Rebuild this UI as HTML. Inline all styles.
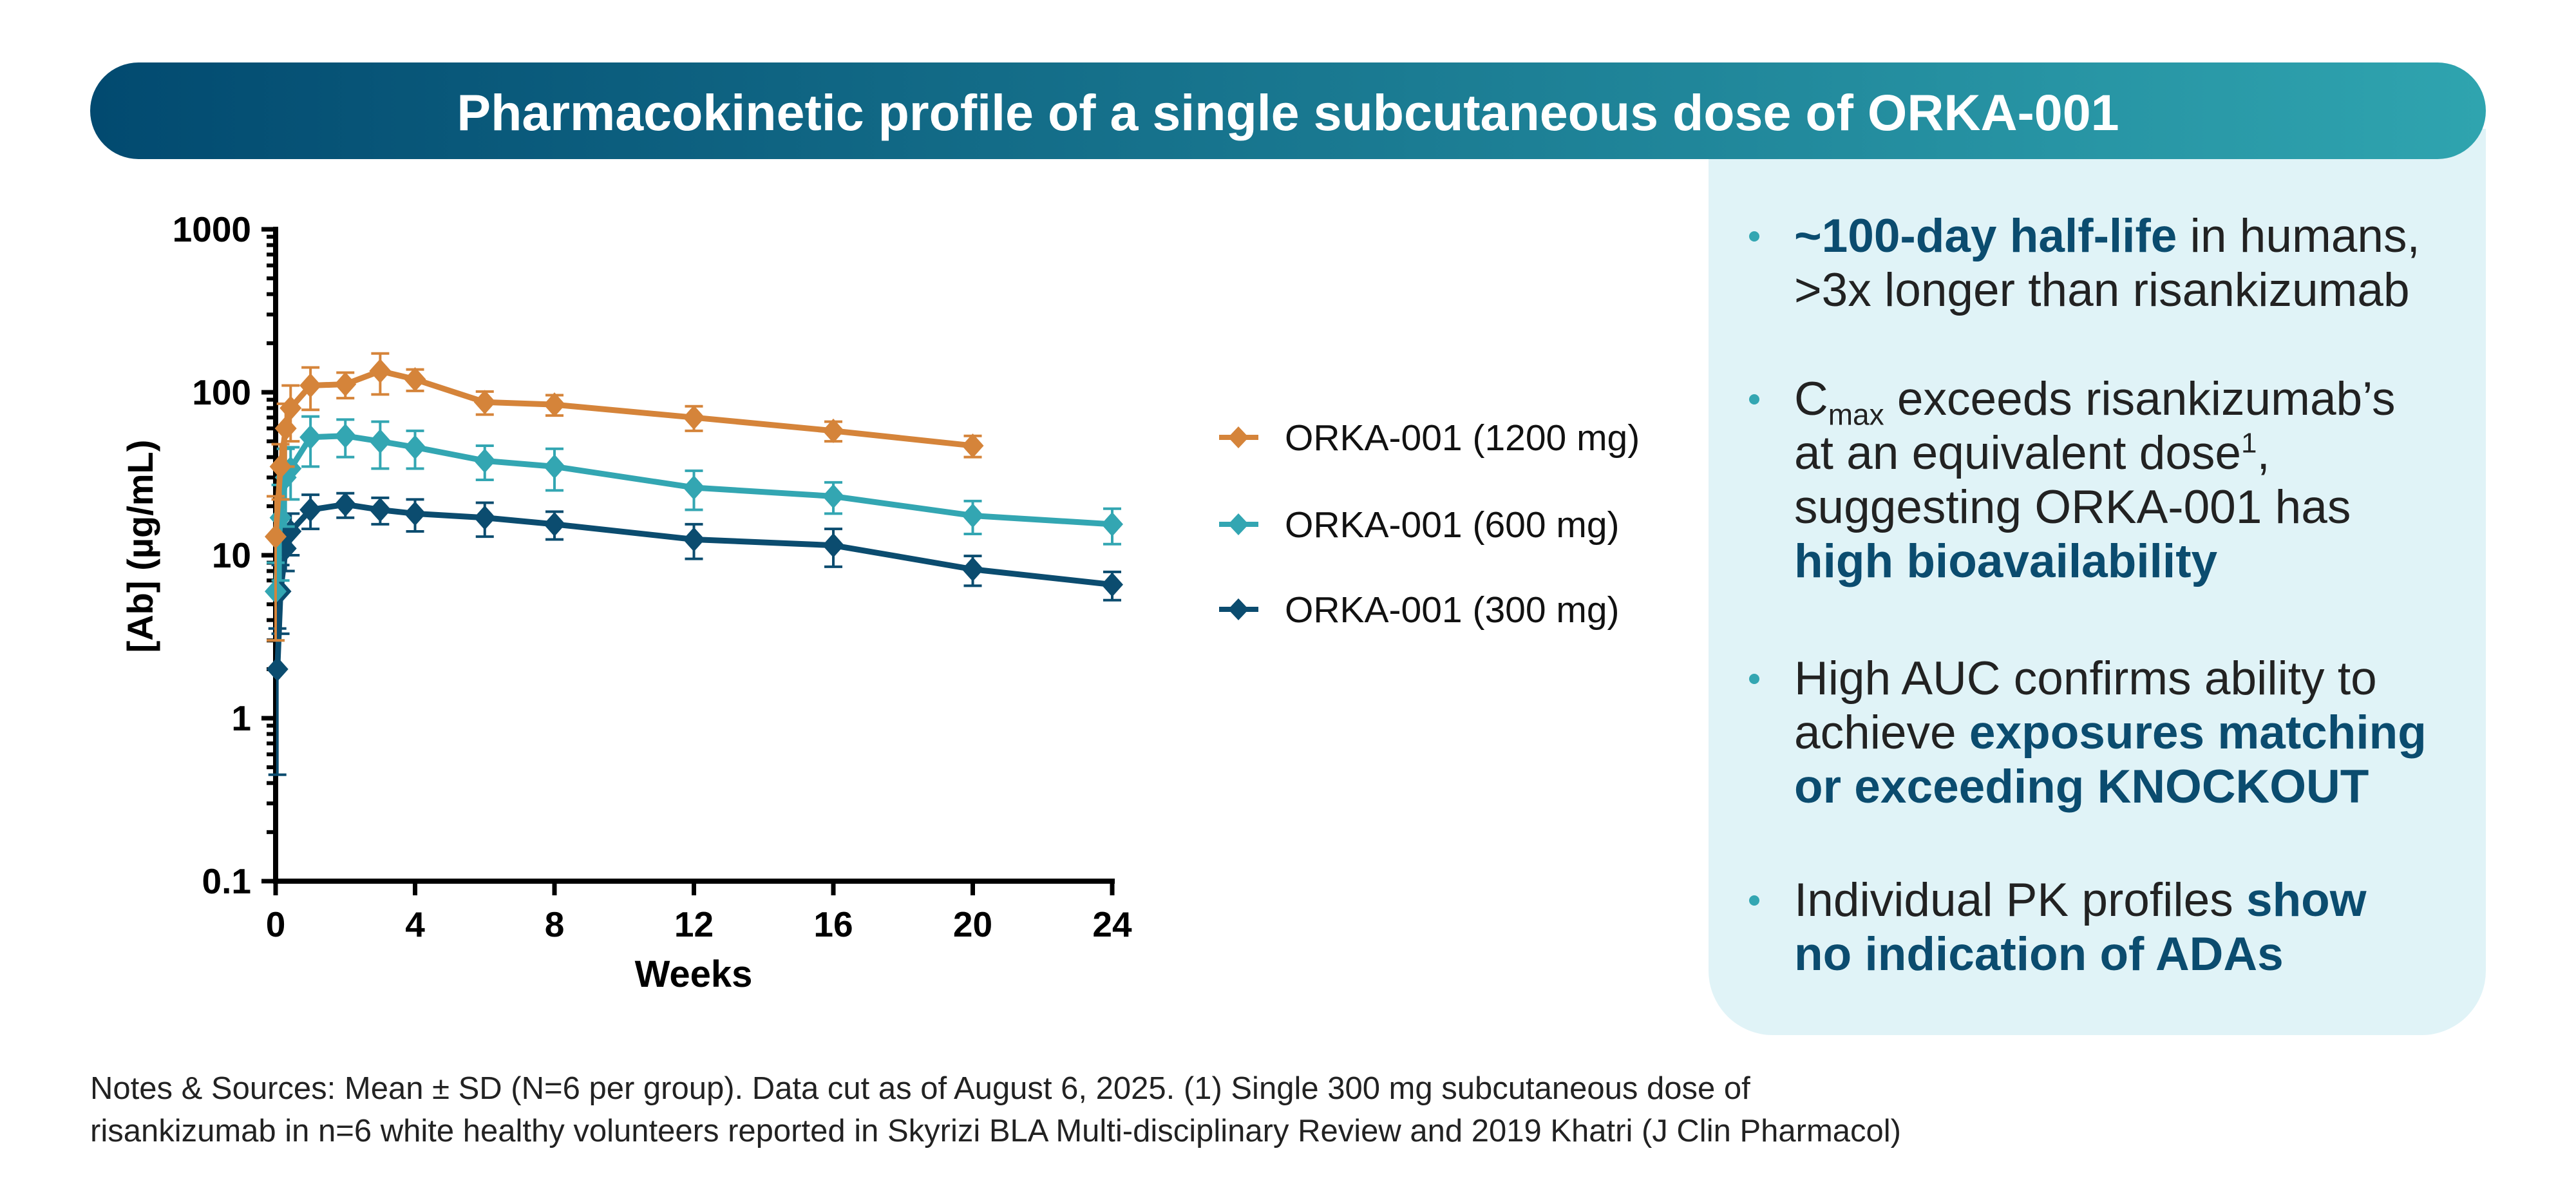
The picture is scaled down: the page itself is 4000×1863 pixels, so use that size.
<!DOCTYPE html>
<html><head><meta charset="utf-8"><style>
body{margin:0;width:4000px;height:1863px;background:#fff;font-family:"Liberation Sans",Arial,sans-serif;position:relative;overflow:hidden}
.banner{position:absolute;left:140px;top:97px;width:3720px;height:150px;border-radius:75px;background:linear-gradient(90deg,#024a70,#2fa4af);color:#fff;font-weight:bold;font-size:79px;text-align:center;line-height:156px;z-index:2}
.panel{position:absolute;left:2653px;top:200px;width:1207px;height:1407px;background:#e0f3f7;border-radius:0 0 100px 100px;z-index:1}
.bl{position:absolute;left:2786px;font-size:73px;line-height:84px;color:#222;z-index:3;white-space:nowrap}
.bl b{color:#0b4c6f}
.bl sub,.bl sup{line-height:0}
.dot{position:absolute;left:-70px;top:34px;width:16px;height:16px;border-radius:50%;background:#33a6b2}
.notes{position:absolute;left:140px;top:1657px;font-size:49px;line-height:66px;color:#222;white-space:nowrap}
svg{z-index:4}
</style></head><body>
<div class="banner">Pharmacokinetic profile of a single subcutaneous dose of ORKA-001</div>
<div class="panel"></div>
<div class="bl" style="top:325px"><span class="dot"></span><b>~100-day half-life</b> in humans,<br>&gt;3x longer than risankizumab</div>
<div class="bl" style="top:578px"><span class="dot"></span>C<sub style="font-size:46px">max</sub> exceeds risankizumab’s<br>at an equivalent dose<sup style="font-size:44px">1</sup>,<br>suggesting ORKA-001 has<br><b>high bioavailability</b></div>
<div class="bl" style="top:1012px"><span class="dot"></span>High AUC confirms ability to<br>achieve <b>exposures matching<br>or exceeding KNOCKOUT</b></div>
<div class="bl" style="top:1356px"><span class="dot"></span>Individual PK profiles <b>show<br>no indication of ADAs</b></div>
<div class="notes">Notes &amp; Sources: Mean ± SD (N=6 per group). Data cut as of August 6, 2025. (1) Single 300 mg subcutaneous dose of<br>risankizumab in n=6 white healthy volunteers reported in Skyrizi BLA Multi-disciplinary Review and 2019 Khatri (J Clin Pharmacol)</div>
<svg id="chart" width="4000" height="1863" style="position:absolute;left:0;top:0"></svg>
<script>
const yTicks=[0.1,1,10,100,1000];
const yTickLabels=["0.1","1","10","100","1000"];
const xTicks=[0,4,8,12,16,20,24];
const t1200=[0,0.14,0.29,0.43,1,2,3,4,6,8,12,16,20];
const v1200=[13,35,60,80,110,112,135,120,87,84,70,58,47];
const sd1200=[10,13,25,30,32,20,38,18,14,12,12,8,7];
const t600=[0,0.14,0.29,0.43,1,2,3,4,6,8,12,16,20,24];
const v600=[6,17,30,34,53,54,50,46,38,35,26,23,17.5,15.5];
const sd600=[3,10,15,12,18,14,16,12,9,10,7,5,4,3.8];
const t300=[0.05,0.14,0.29,0.43,1,2,3,4,6,8,12,16,20,24];
const v300=[2,6,11,14,19,20.5,19,18,17,15.5,12.5,11.5,8.2,6.6];
const sd300=[1.55,2.7,3,4,4.5,3.5,3.5,4,4,3,3,3,1.7,1.3];
const seriesNames=["ORKA-001 (1200 mg)","ORKA-001 (600 mg)","ORKA-001 (300 mg)"];
const NS="http://www.w3.org/2000/svg",svg=document.getElementById('chart');
const X0=428,X1=1727,Ytop=356,Ybot=1368;
const xs=t=>X0+t/24*(X1-X0);
const ys=v=>Ybot-(Math.log10(v)+1)/4*(Ybot-Ytop);
function mk(tag,a,parent){const e=document.createElementNS(NS,tag);for(const k in a)e.setAttribute(k,a[k]);(parent||svg).appendChild(e);return e;}
const yAxis=mk('line',{x1:X0,y1:Ytop-4,x2:X0,y2:Ybot+4,stroke:'#000','stroke-width':8});


const xAxis=mk('line',{x1:X0-4,y1:Ybot,x2:X1+4,y2:Ybot,stroke:'#000','stroke-width':8});


yTicks.forEach((v,i)=>{
  const y=ys(v);
  mk('line',{x1:X0-22,y1:y,x2:X0,y2:y,stroke:'#000','stroke-width':7});
  const tx=mk('text',{x:X0-38,y:y+19,'text-anchor':'end','font-size':55,'font-weight':'bold'});
  tx.textContent=yTickLabels[i];
  
  
  if(i<yTicks.length-1)for(let m=2;m<10;m++){const yy=ys(v*m);mk('line',{x1:X0-14,y1:yy,x2:X0,y2:yy,stroke:'#000','stroke-width':6});}
});
xTicks.forEach(t=>{
  const x=xs(t);
  mk('line',{x1:x,y1:Ybot,x2:x,y2:Ybot+22,stroke:'#000','stroke-width':7});
  const tx=mk('text',{x:x,y:1454,'text-anchor':'middle','font-size':55,'font-weight':'bold'});
  tx.textContent=t;
  
  
});
const xt=mk('text',{x:1077,y:1532,'text-anchor':'middle','font-size':58,'font-weight':'bold'});
xt.textContent='Weeks';


const yt=mk('text',{x:0,y:0,'text-anchor':'middle','font-size':56,'font-weight':'bold',transform:'translate(237,848) rotate(-90)'});
yt.textContent='[Ab] (µg/mL)';


function series(t,v,sd,color,name,ly){
  const g=mk('g',{});
  
  
  t.forEach((tt,i)=>{
    const x=xs(tt),lo=Math.max(v[i]-sd[i],0.1),hi=v[i]+sd[i];
    mk('line',{x1:x,y1:ys(lo),x2:x,y2:ys(hi),stroke:color,'stroke-width':4},g);
    mk('line',{x1:x-14,y1:ys(lo),x2:x+14,y2:ys(lo),stroke:color,'stroke-width':4},g);
    mk('line',{x1:x-14,y1:ys(hi),x2:x+14,y2:ys(hi),stroke:color,'stroke-width':4},g);
  });
  mk('polyline',{points:t.map((tt,i)=>xs(tt)+','+ys(v[i])).join(' '),fill:'none',stroke:color,'stroke-width':9,'stroke-linejoin':'round'},g);
  t.forEach((tt,i)=>{
    const x=xs(tt),y=ys(v[i]);
    const p=mk('polygon',{points:`${x},${y-19} ${x+17},${y} ${x},${y+19} ${x-17},${y}`,fill:color},g);
    
    
  });
  const lg=mk('g',{});
  
  
  mk('line',{x1:1893,y1:ly,x2:1954,y2:ly,stroke:color,'stroke-width':8},lg);
  mk('polygon',{points:`1923,${ly-17} 1939,${ly} 1923,${ly+17} 1907,${ly}`,fill:color},lg);
  const tx=mk('text',{x:1995,y:ly+20,'font-size':57,fill:'#111'},lg);
  tx.textContent=name;
}
series(t300,v300,sd300,'#0b4c6f',seriesNames[2],946);
series(t600,v600,sd600,'#33a6b2',seriesNames[1],814);
series(t1200,v1200,sd1200,'#d5843a',seriesNames[0],679);
</script>
</body></html>
